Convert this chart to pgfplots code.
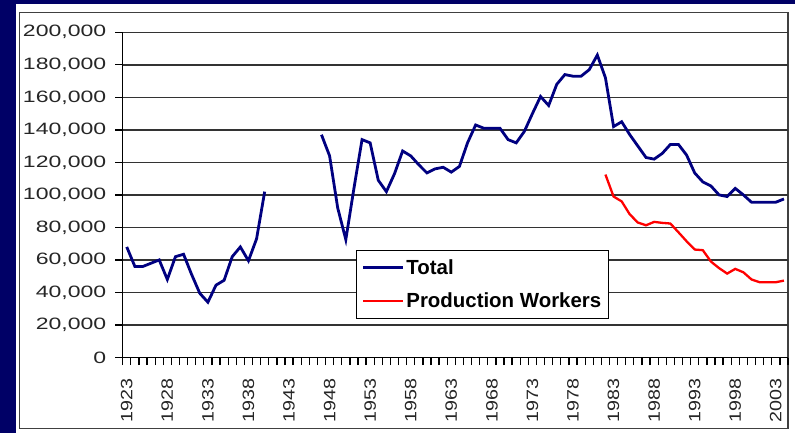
\documentclass[border=0pt]{standalone}
\usepackage{fontspec}
\setmainfont{Liberation Sans}
\newfontfamily\tickfont{Liberation Sans}[FakeStretch=1.4]
\newfontfamily\xtickfont{Liberation Sans}[FakeStretch=1.2]
\usepackage{pgfplots}
\pgfplotsset{compat=1.18}
\definecolor{bgnavy}{RGB}{0,0,102}
\definecolor{totalblue}{RGB}{0,0,128}

\begin{document}
\begin{tikzpicture}
% slide background and chart frame
\fill[bgnavy] (0bp,0bp) rectangle (795bp,433bp);
\fill[white] (16bp,0bp) rectangle (795bp,429bp);
\draw[black!75, line width=1.1bp] (19.3bp,4.7bp) rectangle (788bp,420.7bp);

\begin{axis}[
    at={(122.7bp,75.5bp)}, anchor=south west,
    scale only axis, width=665.3bp, height=325.2bp,
    xmin=1922.5, xmax=2004.5,
    ymin=0, ymax=200000,
    axis lines*=left,
    axis line style={black, line width=1.4bp},
    xtick={1923,1928,...,2003},
    minor xtick={1922.5,1923.5,...,2004.5},
    ytick={0,20000,...,200000},
    minor ytick={0,20000,...,200000},
    ymajorgrids,
    major grid style={black!80, line width=1.5bp},
    major tick length=0pt, minor tick length=7.5bp,
    tick align=outside,
    tick style={black, line width=1.3bp},
    scaled y ticks=false,
    yticklabel style={font=\tickfont\fontsize{16.5}{19}\selectfont, text=black!85,
        /pgf/number format/.cd, fixed, 1000 sep={,}, assume math mode=true},
    x tick label style={font=\xtickfont\fontsize{16.5}{19}\selectfont, text=black!85,
        rotate=90, anchor=east, /pgf/number format/.cd, 1000 sep={}, assume math mode=true},
    yticklabel shift=13bp,
    xticklabel shift=18bp,
    unbounded coords=jump,
    legend style={at={(0.3507,0.3306)}, anchor=north west, draw=black, line width=1.2bp,
        fill=white, font=\bfseries\fontsize{20.5}{24}\selectfont,
        row sep=13bp, inner xsep=5bp, inner ysep=7bp},
    legend cell align=left,
    legend image code/.code={\draw[#1] (0bp,0bp) -- (40bp,0bp);},
]
\addplot[color=totalblue, line width=2.8bp] coordinates {
    (1923,68000) (1924,56000) (1925,56000) (1926,58000) (1927,60000)
    (1928,48000) (1929,62000) (1930,63500) (1931,51000) (1932,39500)
    (1933,34000) (1934,44500) (1935,47500) (1936,62000) (1937,68000)
    (1938,59500) (1939,73000) (1940,102000) (1941,nan)
    (1947,137000) (1948,124000) (1949,92000) (1950,72500) (1951,104000)
    (1952,134000) (1953,132000) (1954,109000) (1955,102000) (1956,113000)
    (1957,127000) (1958,124000) (1959,118500) (1960,113500) (1961,116000)
    (1962,117000) (1963,114000) (1964,117500) (1965,132000) (1966,143000)
    (1967,141000) (1968,141000) (1969,141000) (1970,134000) (1971,132000)
    (1972,139000) (1973,150000) (1974,160500) (1975,155000) (1976,168000)
    (1977,174000) (1978,173000) (1979,173000) (1980,177000) (1981,186000)
    (1982,172000) (1983,142000) (1984,145000) (1985,137000) (1986,130000)
    (1987,123000) (1988,122000) (1989,125500) (1990,131000) (1991,131000)
    (1992,124500) (1993,113500) (1994,108000) (1995,105500) (1996,100000)
    (1997,99000) (1998,104000) (1999,100000) (2000,95500) (2001,95500)
    (2002,95500) (2003,95500) (2004,97500)
};
\addlegendentry{Total}
\addplot[color=red, line width=2.3bp] coordinates {
    (1982,112500) (1983,99000) (1984,96000) (1985,88000) (1986,83000)
    (1987,81300) (1988,83400) (1989,82800) (1990,82400) (1991,77000)
    (1992,71500) (1993,66400) (1994,66000) (1995,59000) (1996,55000)
    (1997,51600) (1998,54500) (1999,52400) (2000,48000) (2001,46300)
    (2002,46300) (2003,46300) (2004,47300)
};
\addlegendentry{Production Workers}
\end{axis}
\pgfresetboundingbox
\path[use as bounding box] (0bp,0bp) rectangle (795bp,433bp);
\end{tikzpicture}
\end{document}
